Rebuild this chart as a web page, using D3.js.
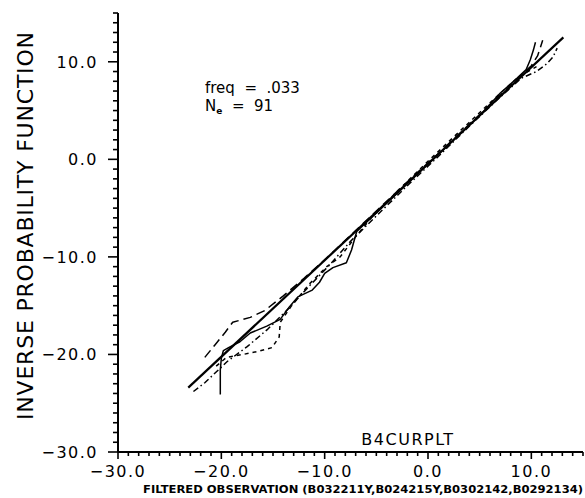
<!DOCTYPE html>
<html>
<head>
<meta charset="utf-8">
<script src="https://cdn.jsdelivr.net/npm/d3@7"></script>
<style>
  html, body { margin: 0; padding: 0; background: #fff; }
  svg { display: block; }
  text { font-family: "DejaVu Sans", sans-serif; fill: #000; }
</style>
</head>
<body>
<svg id="chart" width="585" height="498"></svg>
<script>
// Axis ranges and labelled tick values
const xDomain = [-30, 15];
const yDomain = [-30, 15];
const xTickLabels = [-30, -20, -10, 0, 10];
const yTickLabels = [-30, -20, -10, 0, 10];

// Straight reference line
const refLine = [[-23.2, -23.4], [13.1, 12.5]];

// Probability curves, one per filtered observation series
const seriesNames = ["B032211Y", "B024215Y", "B0302142", "B0292134"];
const s1 = [[-20.1,-24.1],[-20.1,-21.6],[-20.0,-20.4],[-19.8,-19.6],[-19.3,-19.3],[-18.2,-18.7],[-17.2,-17.8],[-15.6,-17.1],[-14.3,-16.4],[-13.4,-15.1],[-12.6,-14.1],[-11.2,-13.4],[-10.5,-12.6],[-10.0,-11.7],[-9.2,-11.1],[-7.9,-10.6],[-7.4,-9.3],[-6.9,-7.4],[-6.0,-6.5],[-4.5,-5.0],[-2.0,-2.5],[0.0,-0.5],[2.5,2.0],[5.0,4.5],[7.0,6.8],[8.6,8.3],[9.5,9.2],[9.9,10.2],[10.2,11.2],[10.4,12.0]];
const s2 = [[-21.6,-20.3],[-20.6,-19.0],[-19.6,-17.7],[-18.9,-16.7],[-17.2,-16.2],[-15.8,-15.5],[-14.0,-14.0],[-12.0,-12.2],[-10.0,-10.3],[-8.0,-8.3],[-5.0,-5.3],[-2.0,-2.3],[1.0,0.6],[4.0,3.6],[7.0,6.6],[8.8,8.4],[10.0,9.6],[10.6,10.6],[11.1,12.2]];
const s3 = [[-22.7,-23.8],[-21.6,-22.9],[-20.5,-21.8],[-19.4,-20.7],[-17.5,-19.2],[-15.5,-17.4],[-13.5,-15.3],[-11.5,-13.0],[-9.5,-10.8],[-7.5,-8.4],[-5.0,-5.8],[-2.0,-2.7],[1.0,0.3],[4.0,3.4],[7.0,6.4],[9.0,8.3],[10.5,9.0],[11.5,9.8],[12.1,10.5],[12.5,11.4]];
const s4 = [[-20.5,-21.2],[-19.5,-20.3],[-17.9,-20.0],[-16.5,-19.7],[-15.1,-19.3],[-14.4,-18.2],[-14.3,-16.7],[-13.2,-15.0],[-11.5,-12.8],[-9.8,-11.0],[-8.5,-10.0],[-7.2,-8.2],[-5.5,-6.0],[-3.0,-3.3],[0.0,-0.2],[3.0,2.8],[6.0,5.8],[8.5,8.2],[9.5,8.9],[10.5,9.5]];
const seriesData = [s1, s2, s3, s4];
const seriesDash = [null, "9,5", "6,3,1.5,3", "4,4"];

const svg = d3.select("#chart");
const x = d3.scaleLinear().domain(xDomain).range([118, 583]);
const y = d3.scaleLinear().domain(yDomain).range([452, 13]);

const fmt = v => (v < 0 ? "\u2212" : "") + Math.abs(v).toFixed(1);

// Y axis: minor ticks every unit, longer ticks at labels
const yAxis = svg.append("g");
yAxis.append("line").attr("x1", x(-30)).attr("x2", x(-30))
  .attr("y1", y(15)).attr("y2", y(-30)).attr("stroke", "#000").attr("stroke-width", 2);
yAxis.selectAll("line.tk").data(d3.range(-30, 16, 1)).join("line")
  .attr("class", "tk")
  .attr("x1", x(-30)).attr("x2", d => x(-30) - (d % 10 === 0 ? 10 : 5))
  .attr("y1", d => y(d)).attr("y2", d => y(d))
  .attr("stroke", "#000").attr("stroke-width", 1.6);
yAxis.selectAll("text").data(yTickLabels).join("text")
  .attr("x", 98).attr("y", d => y(d) + 6)
  .attr("text-anchor", "end")
  .attr("font-size", 16).attr("letter-spacing", 1.5)
  .text(fmt);

// X axis
const xAxis = svg.append("g");
xAxis.append("line").attr("x1", x(-30)).attr("x2", x(15))
  .attr("y1", y(-30)).attr("y2", y(-30)).attr("stroke", "#000").attr("stroke-width", 2);
xAxis.selectAll("line.tk").data(d3.range(-30, 16, 1)).join("line")
  .attr("class", "tk")
  .attr("x1", d => x(d)).attr("x2", d => x(d))
  .attr("y1", y(-30)).attr("y2", d => y(-30) + (d % 10 === 0 ? 7 : 4))
  .attr("stroke", "#000").attr("stroke-width", 1.6);
xAxis.selectAll("text").data(xTickLabels).join("text")
  .attr("x", d => x(d)).attr("y", 477)
  .attr("text-anchor", "middle")
  .attr("font-size", 16).attr("letter-spacing", 1.5)
  .text(fmt);

// Axis titles
svg.append("text")
  .attr("transform", "translate(33,226) rotate(-90)")
  .attr("text-anchor", "middle")
  .attr("font-size", 22)
  .attr("textLength", 388).attr("lengthAdjust", "spacing")
  .text("INVERSE PROBABILITY FUNCTION");

svg.append("text")
  .attr("x", 408).attr("y", 445)
  .attr("text-anchor", "middle")
  .attr("font-size", 16).attr("letter-spacing", 1.5)
  .text("B4CURPLT");

svg.append("text")
  .attr("x", 143).attr("y", 493)
  .attr("font-size", 10).attr("font-weight", "bold")
  .attr("textLength", 440).attr("lengthAdjust", "spacingAndGlyphs")
  .text("FILTERED OBSERVATION (" + seriesNames.join(",") + ")");

// Annotation
const note = svg.append("g").attr("font-size", 15);
note.append("text").attr("x", 205).attr("y", 93)
  .style("white-space", "pre").text("freq  =  .033");
const n2 = note.append("text").attr("x", 205).attr("y", 111).style("white-space", "pre");
n2.append("tspan").text("N");
n2.append("tspan").attr("font-size", 9).attr("font-weight", "bold").attr("dy", 3).text("e");
n2.append("tspan").attr("dy", -3).text("  =  91");

// Curves
const line = d3.line().x(d => x(d[0])).y(d => y(d[1])).curve(d3.curveLinear);

svg.append("path").datum(refLine)
  .attr("d", line).attr("fill", "none")
  .attr("stroke", "#000").attr("stroke-width", 2.2);

svg.selectAll("path.series").data(seriesData).join("path")
  .attr("class", "series")
  .attr("d", line).attr("fill", "none")
  .attr("stroke", "#000").attr("stroke-width", 1.5)
  .attr("stroke-linejoin", "round")
  .attr("stroke-dasharray", (d, i) => seriesDash[i]);
</script>
</body>
</html>
